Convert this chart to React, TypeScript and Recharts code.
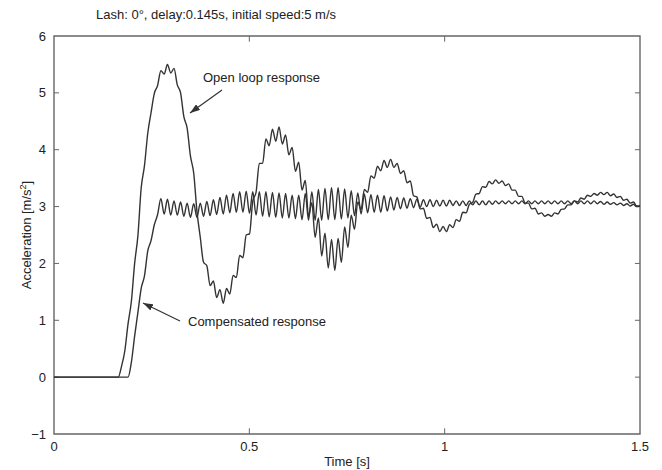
import React from "react";
import { LineChart, Line, XAxis, YAxis, ReferenceLine, ReferenceArea } from "recharts";

const FONT = '"Liberation Sans", Arial, Helvetica, sans-serif';

// samples, one every 8.4 ms starting at t = 0.156 s
const sampleStart = 0.156;
const sampleStep = 0.0084;

const openLoop = [
  0, 0, 0.19, 0.46, 0.94, 1.33, 2.0, 2.49, 3.33, 3.72,
  4.29, 4.65, 4.99, 5.13, 5.39, 5.33, 5.5, 5.35, 5.43, 5.14,
  5.0, 4.58, 4.38, 3.89, 3.59, 2.91, 2.46, 2.02, 1.96, 1.61,
  1.69, 1.4, 1.54, 1.3, 1.56, 1.46, 1.79, 1.75, 2.14, 2.1,
  2.5, 2.52, 3.1, 3.25, 3.76, 3.76, 4.19, 4.07, 4.36, 4.15,
  4.4, 4.1, 4.26, 3.91, 4.04, 3.62, 3.78, 3.29, 3.46, 2.83,
  3.07, 2.46, 2.8, 2.13, 2.53, 1.92, 2.42, 1.88, 2.44, 2.02,
  2.64, 2.28, 2.85, 2.6, 3.08, 2.95, 3.3, 3.25, 3.54, 3.5,
  3.71, 3.63, 3.81, 3.69, 3.83, 3.69, 3.76, 3.58, 3.63, 3.42,
  3.45, 3.19, 3.17, 2.96, 2.97, 2.79, 2.81, 2.63, 2.69, 2.56,
  2.65, 2.56, 2.68, 2.63, 2.77, 2.74, 2.9, 2.89, 3.04, 3.07,
  3.22, 3.23, 3.35, 3.34, 3.44, 3.4, 3.47, 3.41, 3.45, 3.37,
  3.4, 3.29, 3.29, 3.18, 3.18, 3.06, 3.06, 2.96, 2.97, 2.87,
  2.89, 2.83, 2.86, 2.83, 2.89, 2.87, 2.95, 2.96, 3.03, 3.03,
  3.1, 3.08, 3.15, 3.13, 3.2, 3.18, 3.23, 3.2, 3.25, 3.21,
  3.25, 3.19, 3.22, 3.16, 3.18, 3.11, 3.13, 3.06, 3.08, 3.01,
  3.01,
];

const compensated = [
  0, 0, 0, 0, 0, 0.26, 0.72, 1.14, 1.56, 1.78,
  2.22, 2.4, 2.68, 2.86, 3.14, 2.87, 3.13, 2.85, 3.1, 2.85,
  3.08, 2.83, 3.06, 2.81, 3.05, 2.81, 3.06, 2.83, 3.09, 2.84,
  3.12, 2.86, 3.16, 2.87, 3.2, 2.89, 3.23, 2.9, 3.26, 2.9,
  3.27, 2.88, 3.26, 2.85, 3.26, 2.83, 3.26, 2.82, 3.25, 2.81,
  3.24, 2.8, 3.23, 2.8, 3.2, 2.79, 3.2, 2.77, 3.23, 2.76,
  3.26, 2.76, 3.3, 2.76, 3.32, 2.77, 3.33, 2.77, 3.33, 2.78,
  3.31, 2.8, 3.28, 2.84, 3.24, 2.87, 3.22, 2.89, 3.21, 2.9,
  3.2, 2.9, 3.19, 2.92, 3.17, 2.94, 3.16, 2.96, 3.15, 2.97,
  3.14, 2.98, 3.13, 2.99, 3.12, 3.0, 3.12, 3.0, 3.11, 3.01,
  3.11, 3.01, 3.11, 3.02, 3.1, 3.02, 3.1, 3.02, 3.1, 3.03,
  3.1, 3.03, 3.1, 3.03, 3.1, 3.04, 3.1, 3.05, 3.1, 3.05,
  3.1, 3.05, 3.1, 3.05, 3.1, 3.05, 3.1, 3.05, 3.1, 3.05,
  3.1, 3.05, 3.1, 3.05, 3.1, 3.05, 3.1, 3.05, 3.1, 3.05,
  3.1, 3.05, 3.1, 3.05, 3.1, 3.05, 3.1, 3.05, 3.09, 3.04,
  3.08, 3.04, 3.07, 3.03, 3.06, 3.02, 3.05, 3.01, 3.04, 3.0,
  3.01,
];

const xTicks = [0, 0.5, 1, 1.5];
const yTicks = [-1, 0, 1, 2, 3, 4, 5, 6];

const data = [
  { t: 0, open: 0, comp: 0 },
  ...openLoop.map((v, i) => ({
    t: Number((sampleStart + i * sampleStep).toFixed(4)),
    open: v,
    comp: compensated[i],
  })),
];

const fmtY = (v: number) => (v < 0 ? `\u2212${Math.abs(v)}` : String(v));

export default function App() {
  const ink = "#333";
  const axisInk = "#666";
  return (
    <div style={{ position: "absolute", left: 0, top: 0, width: 662, height: 470, background: "#fff", fontFamily: FONT }}>
      <LineChart width={662} height={470} data={data} margin={{ top: 36, right: 22, bottom: 0, left: 14 }}>
        <XAxis
          type="number"
          dataKey="t"
          domain={[0, 1.5]}
          ticks={xTicks}
          height={36}
          axisLine={false}
          tickLine={false}
          tick={{ fontSize: 13, fill: "#222", fontFamily: FONT }}
        />
        <YAxis
          type="number"
          domain={[-1, 6]}
          ticks={yTicks}
          width={40}
          axisLine={false}
          tickLine={false}
          tickFormatter={fmtY}
          tick={{ fontSize: 13, fill: "#222", fontFamily: FONT }}
        />
        <ReferenceArea x1={0} x2={1.5} y1={-1} y2={6} fill="none" fillOpacity={0} stroke={axisInk} strokeWidth={1.4} />
        {xTicks.slice(1, -1).map((x) => (
          <ReferenceLine key={`xb${x}`} segment={[{ x, y: -1 }, { x, y: -0.9 }]} stroke={axisInk} />
        ))}
        {xTicks.slice(1, -1).map((x) => (
          <ReferenceLine key={`xt${x}`} segment={[{ x, y: 6 }, { x, y: 5.9 }]} stroke={axisInk} />
        ))}
        {yTicks.slice(1, -1).map((y) => (
          <ReferenceLine key={`yl${y}`} segment={[{ x: 0, y }, { x: 0.013, y }]} stroke={axisInk} />
        ))}
        {yTicks.slice(1, -1).map((y) => (
          <ReferenceLine key={`yr${y}`} segment={[{ x: 1.487, y }, { x: 1.5, y }]} stroke={axisInk} />
        ))}
        <Line type="monotone" dataKey="open" stroke={ink} strokeWidth={1.4} dot={false} isAnimationActive={false} />
        <Line type="monotone" dataKey="comp" stroke={ink} strokeWidth={1.4} dot={false} isAnimationActive={false} />
      </LineChart>
      <svg width={662} height={470} style={{ position: "absolute", left: 0, top: 0, pointerEvents: "none" }} fontFamily={FONT}>
        <defs>
          <marker id="head" viewBox="0 0 10 7" refX="10" refY="3.5" markerWidth="10" markerHeight="7" orient="auto" markerUnits="userSpaceOnUse">
            <path d="M0,0 L10,3.5 L0,7 z" fill={ink} />
          </marker>
        </defs>
        <text x={96} y={19} fontSize={13} fill="#222">Lash: 0°, delay:0.145s, initial speed:5 m/s</text>
        <text x={203} y={82} fontSize={13} fill="#222">Open loop response</text>
        <line x1={222} y1={90} x2={190} y2={113} stroke={ink} strokeWidth={1.2} markerEnd="url(#head)" />
        <text x={188} y={326} fontSize={13} fill="#222">Compensated response</text>
        <line x1={180} y1={321} x2={143} y2={303} stroke={ink} strokeWidth={1.2} markerEnd="url(#head)" />
        <text x={347} y={466} fontSize={13} fill="#222" textAnchor="middle">Time [s]</text>
        <text transform="translate(31,235) rotate(-90)" fontSize={13} fill="#222" textAnchor="middle">
          Acceleration [m/s<tspan fontSize={9} dy={-5}>2</tspan><tspan dy={5}>]</tspan>
        </text>
      </svg>
    </div>
  );
}
